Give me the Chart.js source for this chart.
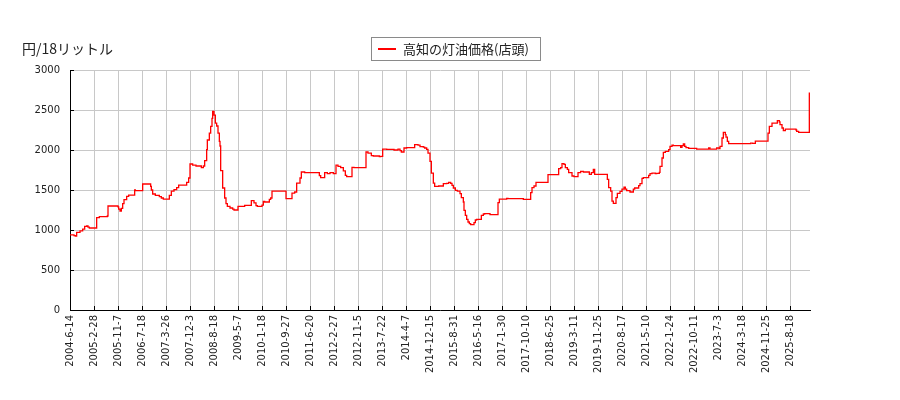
<!DOCTYPE html>
<html>
<head>
<meta charset="utf-8">
<script src="https://cdn.jsdelivr.net/npm/chart.js@4/dist/chart.umd.min.js"></script>
<style>
    body { margin: 0; background: #fff; }
    #wrap { position: relative; width: 900px; height: 400px; }
    #unidade { position: absolute; left: 22px; top: 38px; font: 14px "Noto Sans CJK JP", sans-serif; color: #222; }
    #legenda { position: absolute; left: 371px; top: 37px; width: 168px; height: 22px; border: 1px solid #8a8a8a; background: #fff;
               font: 13px "Noto Sans CJK JP", sans-serif; color: #222; line-height: 22px; }
    #legenda span.linha { position: absolute; left: 6px; top: 10px; width: 18px; height: 2px; background: #f00; }
    #legenda span.texto { position: absolute; left: 31px; top: 0; }
</style>
</head>
<body>
<div id="wrap">
    <canvas id="grafico" width="900" height="400"></canvas>
    <div id="unidade">円/18リットル</div>
    <div id="legenda"><span class="linha"></span><span class="texto">高知の灯油価格(店頭)</span></div>
</div>
<script>
// weekly observations, x = row number of the weekly series, one tick label every 36 rows
const rowsPerTick = 36
const tickLabels = ['2004-6-14', '2005-2-28', '2005-11-7', '2006-7-18', '2007-3-26', '2007-12-3', '2008-8-18', '2009-5-7',
    '2010-1-18', '2010-9-27', '2011-6-20', '2012-2-27', '2012-11-5', '2013-7-22', '2014-4-7', '2014-12-15', '2015-8-31',
    '2016-5-16', '2017-1-30', '2017-10-10', '2018-6-25', '2019-3-11', '2019-11-25', '2020-8-17', '2021-5-10', '2022-1-24',
    '2022-10-11', '2023-7-3', '2024-3-18', '2024-11-25', '2025-8-18']
const lastRow = 1110

// row where each price level starts
const rows = [0, 6, 8, 10, 15, 19, 22, 25, 27, 29, 40, 44, 56, 57, 72, 73, 75, 77, 79, 81, 85, 88, 97, 98, 109,
    121, 122, 124, 128, 134, 137, 140, 149, 152, 156, 160, 163, 175, 178, 180, 184, 189, 197, 200, 202, 205, 206,
    209, 211, 213, 214, 216, 218, 220, 222, 224, 225, 226, 229, 232, 234, 236, 240, 244, 246, 252, 262, 272, 276,
    279, 281, 288, 290, 292, 299, 301, 303, 324, 333, 337, 340, 345, 347, 352, 374, 376, 382, 386, 390, 395, 399,
    402, 406, 410, 413, 415, 423, 426, 444, 447, 452, 455, 464, 466, 469, 475, 486, 492, 495, 497, 501, 505, 517,
    522, 525, 530, 532, 535, 537, 540, 542, 545, 547, 550, 553, 560, 565, 568, 571, 573, 575, 578, 581, 585, 587,
    590, 591, 593, 595, 597, 599, 601, 606, 608, 610, 617, 620, 622, 630, 642, 644, 655, 657, 680, 691, 693, 696,
    699, 717, 733, 736, 738, 741, 743, 746, 748, 753, 756, 762, 766, 770, 779, 782, 785, 787, 806, 808, 811, 813,
    815, 819, 821, 825, 828, 831, 833, 835, 840, 845, 847, 853, 855, 858, 860, 868, 870, 873, 878, 880, 884, 885,
    888, 890, 893, 898, 900, 903, 905, 916, 918, 920, 922, 924, 928, 940, 958, 960, 970, 974, 975, 978, 980, 983,
    984, 986, 988, 1021, 1024, 1028, 1047, 1049, 1053, 1061, 1064, 1065, 1068, 1070, 1073, 1089, 1090, 1093,
    1109, 1110]
const prices = [940, 930, 925, 970, 990, 1010, 1045, 1050, 1035, 1025, 1155, 1167, 1175, 1300, 1290, 1260, 1237,
    1270, 1330, 1379, 1420, 1437, 1500, 1492, 1575, 1546, 1500, 1450, 1433, 1417, 1400, 1387, 1433, 1487, 1504,
    1530, 1562, 1596, 1650, 1825, 1812, 1800, 1780, 1800, 1867, 2004, 2125, 2212, 2296, 2396, 2483, 2437, 2337,
    2300, 2212, 2108, 2050, 1742, 1525, 1400, 1329, 1296, 1275, 1262, 1250, 1296, 1308, 1367, 1340, 1304, 1296,
    1312, 1358, 1350, 1383, 1400, 1487, 1392, 1462, 1475, 1587, 1650, 1725, 1717, 1679, 1654, 1717, 1704, 1717,
    1704, 1812, 1796, 1779, 1740, 1683, 1667, 1783, 1779, 1975, 1962, 1929, 1925, 1917, 1921, 2012, 2008, 2000,
    2012, 1992, 1975, 2025, 2029, 2067, 2062, 2042, 2037, 2025, 2008, 1962, 1858, 1712, 1587, 1546, 1545, 1550,
    1579, 1583, 1596, 1583, 1558, 1525, 1496, 1487, 1454, 1404, 1350, 1246, 1183, 1133, 1100, 1079, 1067, 1092,
    1125, 1133, 1183, 1200, 1204, 1192, 1342, 1387, 1396, 1392, 1383, 1467, 1529, 1550, 1596, 1692, 1767, 1779,
    1829, 1820, 1779, 1758, 1717, 1675, 1667, 1717, 1733, 1725, 1696, 1717, 1758, 1696, 1633, 1529, 1487, 1362,
    1333, 1404, 1458, 1483, 1512, 1537, 1512, 1492, 1475, 1512, 1525, 1554, 1579, 1646, 1654, 1683, 1704, 1712,
    1704, 1708, 1721, 1796, 1900, 1971, 1983, 2004, 2046, 2062, 2054, 2033, 2054, 2075, 2046, 2029, 2021, 2012,
    2025, 2012, 2025, 2017, 2046, 2150, 2221, 2192, 2162, 2108, 2079, 2087, 2083, 2112, 2212, 2296, 2337, 2367,
    2350, 2317, 2275, 2242, 2262, 2250, 2233, 2221, 2710, 2600]

const yTicks = [0, 500, 1000, 1500, 2000, 2500, 3000]

// short black tick marks pointing into the plot
const ticksDentro = {
    id: 'ticksDentro',
    afterDraw(chart) {
        const ctx = chart.ctx
        const area = chart.chartArea
        const x = chart.scales.x
        const y = chart.scales.y
        ctx.save()
        ctx.strokeStyle = '#000'
        ctx.lineWidth = 1
        ctx.beginPath()
        yTicks.forEach(v => {
            let py = Math.round(y.getPixelForValue(v)) + 0.5
            ctx.moveTo(area.left, py)
            ctx.lineTo(area.left + 4, py)
        })
        tickLabels.forEach((_, i) => {
            let px = Math.round(x.getPixelForValue(i * rowsPerTick)) + 0.5
            ctx.moveTo(px, area.bottom)
            ctx.lineTo(px, area.bottom - 4)
        })
        ctx.stroke()
        ctx.restore()
    }
}

let ctx = document.getElementById('grafico')
new Chart(ctx, {
    type: 'line',
    data: {
        datasets: [{
            label: '高知の灯油価格(店頭)',
            data: rows.map((r, i) => ({ x: r, y: prices[i] })),
            borderColor: '#ff0000',
            borderWidth: 1.3,
            pointRadius: 0,
            stepped: true,
            fill: false
        }]
    },
    options: {
        responsive: false,
        animation: false,
        devicePixelRatio: 1,
        layout: { padding: { left: 0, right: 90, top: 70, bottom: 0 } },
        plugins: { legend: { display: false }, tooltip: { enabled: false } },
        scales: {
            x: {
                type: 'linear',
                min: 0,
                max: lastRow,
                afterBuildTicks: scale => {
                    scale.ticks = tickLabels.map((_, i) => ({ value: i * rowsPerTick }))
                },
                afterFit: scale => { scale.height = 90 },
                ticks: {
                    autoSkip: false,
                    minRotation: 90,
                    maxRotation: 90,
                    padding: 5,
                    color: '#222',
                    font: { family: 'DejaVu Sans', size: 10 },
                    callback: (value, index) => tickLabels[index]
                },
                grid: { color: '#c8c8c8', drawTicks: false },
                border: { color: '#000' }
            },
            y: {
                min: 0,
                max: 3000,
                afterBuildTicks: scale => {
                    scale.ticks = yTicks.map(v => ({ value: v }))
                },
                afterFit: scale => { scale.width = 70 },
                ticks: {
                    padding: 10,
                    color: '#222',
                    font: { family: 'DejaVu Sans', size: 10 },
                    callback: value => String(value)
                },
                grid: { color: '#c8c8c8', drawTicks: false },
                border: { color: '#000' }
            }
        }
    },
    plugins: [ticksDentro]
});
</script>
</body>
</html>
